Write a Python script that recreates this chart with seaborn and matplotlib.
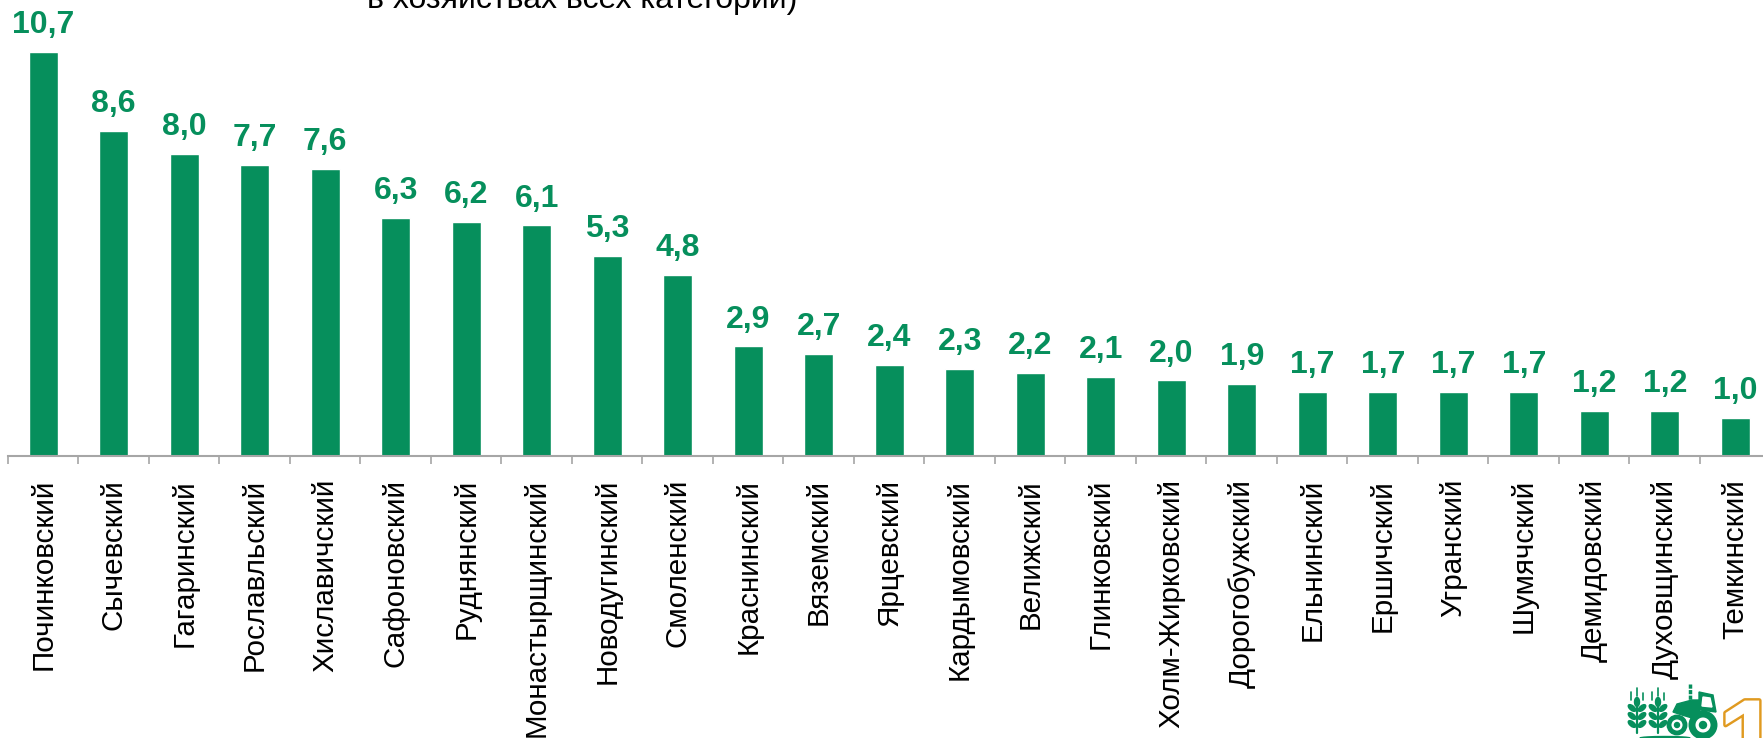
import matplotlib
matplotlib.use('Agg')
import matplotlib.pyplot as plt
import matplotlib.patheffects as pe
from matplotlib.patches import Circle, Polygon, Ellipse
from matplotlib.ticker import FixedLocator
import pandas as pd
import seaborn as sns

# районы и значения
districts = ['Починковский', 'Сычевский', 'Гагаринский', 'Рославльский', 'Хиславичский',
             'Сафоновский', 'Руднянский', 'Монастырщинский', 'Новодугинский', 'Смоленский',
             'Краснинский', 'Вяземский', 'Ярцевский', 'Кардымовский', 'Велижский',
             'Глинковский', 'Холм-Жирковский', 'Дорогобужский', 'Ельнинский', 'Ершичский',
             'Угранский', 'Шумячский', 'Демидовский', 'Духовщинский', 'Темкинский']
values = [10.7, 8.6, 8.0, 7.7, 7.6, 6.3, 6.2, 6.1, 5.3, 4.8, 2.9, 2.7, 2.4, 2.3, 2.2,
          2.1, 2.0, 1.9, 1.7, 1.7, 1.7, 1.7, 1.2, 1.2, 1.0]
title_tail = 'в хозяйствах всех категорий)'

GREEN = '#068F5C'
ORANGE = '#E09A20'
GREY = '#A6A6A6'
W, H = 1763, 738

sns.set_theme(style='white')
plt.rcParams['font.family'] = ['Liberation Sans', 'DejaVu Sans']

df = pd.DataFrame({'district': districts, 'value': values})

fig = plt.figure(figsize=(W / 100, H / 100), dpi=100)
# ось шире картинки: последняя засечка обрезана, как в оригинале
ax = fig.add_axes([8 / W, 1 - 456 / H, 1762.5 / W, 456 / H])
sns.barplot(data=df, x='district', y='value', color=GREEN, width=0.41, saturation=1, ax=ax)

ax.set_xlim(-0.5, 24.5)
ax.set_ylim(0, 456 / 37.8)
ax.set_xlabel('')
ax.set_ylabel('')
ax.set_yticks([])
for side in ['top', 'left', 'right']:
    ax.spines[side].set_visible(False)
ax.spines['bottom'].set_color(GREY)
ax.spines['bottom'].set_linewidth(1.5)

# засечки между столбиками, подписи по центру
ax.xaxis.set_minor_locator(FixedLocator([i - 0.5 for i in range(len(districts) + 1)]))
ax.tick_params(axis='x', which='minor', bottom=True, length=6, width=1.2, color=GREY)
ax.tick_params(axis='x', which='major', bottom=False, pad=10.5, labelsize=21.3, labelcolor='black')
plt.setp(ax.get_xticklabels(), rotation=90, va='top', ha='center')

ax.bar_label(ax.containers[0], labels=[f'{v:.1f}'.replace('.', ',') for v in values],
             padding=8.5, color=GREEN, fontsize=23, fontweight='bold')
for t in ax.texts:
    t.set_clip_on(False)

fig.text(367 / W, 1 - 8 / H, title_tail, fontsize=23, color='black', va='baseline', ha='left')

# логотип в правом нижнем углу
logo = fig.add_axes([0, 0, 1, 1], facecolor='none')
logo.set_xlim(0, W)
logo.set_ylim(H, 0)
logo.axis('off')
for cx in [1637, 1658]:
    logo.plot([cx, cx], [700, 733], color=GREEN, lw=1.6)
    for dy in [711, 719, 727]:
        logo.add_patch(Ellipse((cx - 5, dy - 3), 9, 4.5, angle=40, color=GREEN))
        logo.add_patch(Ellipse((cx + 5, dy - 3), 9, 4.5, angle=-40, color=GREEN))
    logo.add_patch(Ellipse((cx, 702), 5, 9, color=GREEN))
    logo.plot([cx - 6, cx - 6], [692, 700], color=GREEN, lw=1.2)
    logo.plot([cx + 6, cx + 6], [693, 700], color=GREEN, lw=1.2)
    logo.plot([cx, cx], [688, 696], color=GREEN, lw=1.2)
logo.add_patch(Polygon([(1673, 712), (1677, 704), (1692, 700), (1699, 700), (1699, 692),
                        (1713, 695), (1716, 712), (1700, 710), (1692, 718), (1682, 715)],
                       closed=True, color=GREEN))
logo.add_patch(Polygon([(1703, 697), (1710, 698), (1712, 707), (1702, 706)], closed=True, color='white'))
logo.plot([1690, 1690], [684, 701], color=GREEN, lw=2.5, ls=(0, (1.2, 0.4)))
logo.add_patch(Circle((1677, 725), 8, fc='white', ec=GREEN, lw=3.5))
logo.add_patch(Circle((1677, 725), 2.5, color=GREEN))
logo.add_patch(Circle((1703, 725), 11, fc='white', ec=GREEN, lw=5))
logo.add_patch(Circle((1703, 725), 3.5, color=GREEN))
logo.add_patch(Ellipse((1665, 738), 50, 3, color=GREEN))

# обрезанная цифра страницы
logo.text(1718, 777, '1', fontsize=80, fontweight='bold', color='white', va='baseline', ha='left',
          clip_on=False,
          path_effects=[pe.withStroke(linewidth=3.5, foreground=ORANGE)])

fig.savefig('out.png', dpi=100)
